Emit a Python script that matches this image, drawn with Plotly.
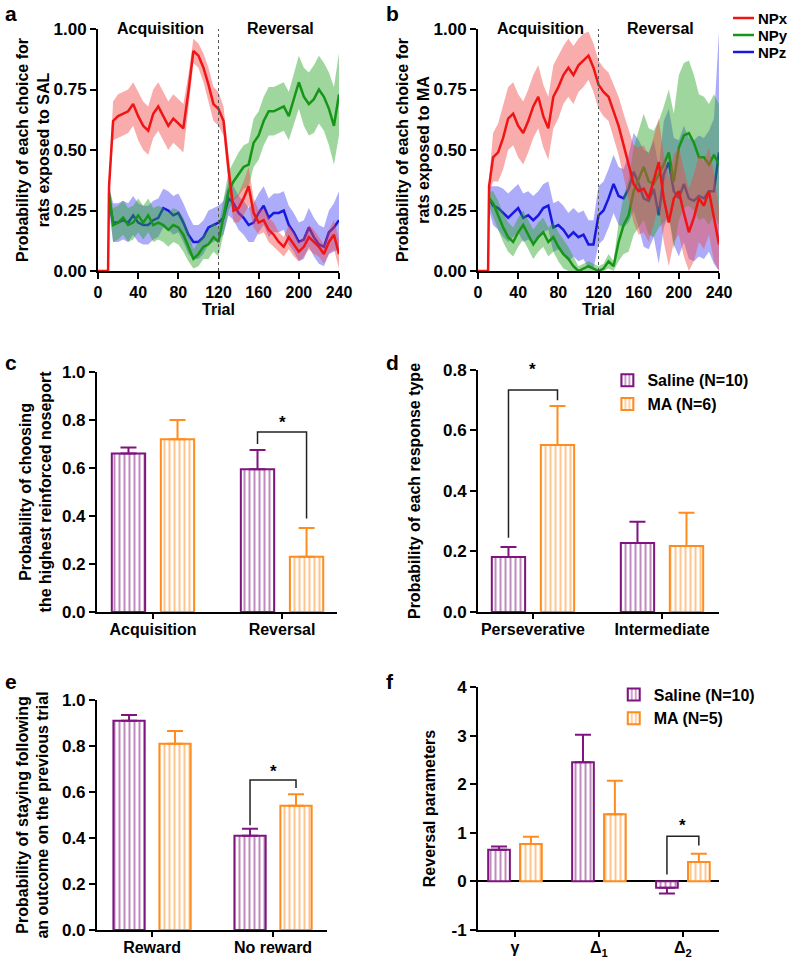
import plotly.graph_objects as go

FONT = 'Liberation Sans'

#%% panels a/b: choice probabilities over trials (mean + sem band)
trials = [11, 15, 20, 25, 30, 35, 40, 45, 50, 55,
          60, 65, 70, 75, 80, 85, 90, 95, 100, 105,
          110, 115, 120, 125, 130, 135, 140, 145, 150, 155,
          160, 165, 170, 175, 180, 185, 190, 195, 200, 205,
          210, 215, 220, 225, 230, 235, 240]
pre_trials = [0, 10]
pre_values = [0.0, 0.0]
trial_ticks = [0, 40, 80, 120, 160, 200, 240]
reversal_trial = 120

npx_sal = [0.35, 0.62, 0.64, 0.65, 0.66, 0.69, 0.64, 0.60, 0.58, 0.65,
           0.68, 0.64, 0.60, 0.63, 0.61, 0.59, 0.74, 0.91, 0.89, 0.84,
           0.77, 0.69, 0.67, 0.62, 0.42, 0.25, 0.26, 0.30, 0.35, 0.24,
           0.20, 0.21, 0.17, 0.15, 0.12, 0.10, 0.14, 0.11, 0.08, 0.10,
           0.14, 0.12, 0.10, 0.07, 0.12, 0.15, 0.07]
npy_sal = [0.32, 0.19, 0.20, 0.22, 0.19, 0.20, 0.23, 0.20, 0.23, 0.19,
           0.20, 0.19, 0.17, 0.19, 0.18, 0.15, 0.10, 0.05, 0.07, 0.10,
           0.11, 0.14, 0.12, 0.22, 0.33, 0.37, 0.40, 0.43, 0.44, 0.53,
           0.56, 0.62, 0.66, 0.66, 0.67, 0.68, 0.64, 0.71, 0.78, 0.72,
           0.69, 0.71, 0.75, 0.72, 0.67, 0.60, 0.73]
npz_sal = [0.30, 0.20, 0.20, 0.21, 0.20, 0.23, 0.20, 0.19, 0.19, 0.21,
           0.22, 0.26, 0.25, 0.23, 0.24, 0.20, 0.15, 0.12, 0.12, 0.14,
           0.18, 0.19, 0.20, 0.22, 0.30, 0.28, 0.24, 0.22, 0.19, 0.20,
           0.24, 0.27, 0.22, 0.24, 0.24, 0.25, 0.19, 0.16, 0.12, 0.13,
           0.18, 0.14, 0.11, 0.10, 0.16, 0.18, 0.21]
sem_x_sal = [0.03, 0.08, 0.09, 0.09, 0.09, 0.09, 0.10, 0.10, 0.10, 0.10,
             0.10, 0.10, 0.10, 0.10, 0.10, 0.10, 0.07, 0.05, 0.05, 0.06,
             0.07, 0.07, 0.07, 0.06, 0.06, 0.05, 0.06, 0.07, 0.08, 0.06,
             0.05, 0.05, 0.05, 0.05, 0.04, 0.04, 0.05, 0.05, 0.04, 0.04,
             0.05, 0.05, 0.04, 0.04, 0.05, 0.06, 0.06]
sem_y_sal = [0.03, 0.07, 0.07, 0.07, 0.07, 0.07, 0.07, 0.07, 0.07, 0.07,
             0.07, 0.07, 0.07, 0.07, 0.07, 0.07, 0.06, 0.04, 0.05, 0.05,
             0.06, 0.06, 0.06, 0.07, 0.08, 0.08, 0.09, 0.09, 0.09, 0.10,
             0.10, 0.10, 0.10, 0.10, 0.10, 0.10, 0.10, 0.11, 0.11, 0.12,
             0.13, 0.14, 0.14, 0.14, 0.15, 0.16, 0.17]
sem_z_sal = [0.05, 0.08, 0.08, 0.08, 0.08, 0.08, 0.08, 0.08, 0.08, 0.08,
             0.08, 0.08, 0.08, 0.08, 0.08, 0.08, 0.08, 0.07, 0.07, 0.07,
             0.07, 0.07, 0.07, 0.07, 0.07, 0.07, 0.07, 0.07, 0.07, 0.08,
             0.08, 0.08, 0.08, 0.08, 0.08, 0.08, 0.08, 0.08, 0.08, 0.08,
             0.08, 0.08, 0.08, 0.08, 0.09, 0.10, 0.12]

npx_ma = [0.35, 0.47, 0.49, 0.55, 0.63, 0.65, 0.60, 0.57, 0.62, 0.68,
          0.72, 0.64, 0.59, 0.72, 0.76, 0.81, 0.84, 0.81, 0.85, 0.87,
          0.89, 0.84, 0.77, 0.74, 0.72, 0.66, 0.60, 0.52, 0.44, 0.36,
          0.33, 0.34, 0.30, 0.38, 0.45, 0.30, 0.20, 0.30, 0.33, 0.24,
          0.16, 0.22, 0.30, 0.27, 0.33, 0.22, 0.11]
npy_ma = [0.30, 0.28, 0.23, 0.18, 0.14, 0.12, 0.16, 0.19, 0.15, 0.11,
          0.14, 0.16, 0.12, 0.14, 0.10, 0.07, 0.05, 0.02, 0.00, 0.01,
          0.02, 0.01, 0.00, 0.01, 0.04, 0.02, 0.12, 0.19, 0.23, 0.33,
          0.38, 0.43, 0.37, 0.36, 0.40, 0.44, 0.49, 0.37, 0.51, 0.56,
          0.57, 0.53, 0.47, 0.47, 0.44, 0.48, 0.44]
npz_ma = [0.30, 0.27, 0.26, 0.24, 0.22, 0.24, 0.26, 0.22, 0.23, 0.21,
          0.23, 0.26, 0.27, 0.18, 0.19, 0.17, 0.14, 0.16, 0.14, 0.15,
          0.11, 0.11, 0.23, 0.25, 0.30, 0.36, 0.31, 0.30, 0.34, 0.41,
          0.36, 0.30, 0.29, 0.34, 0.23, 0.40, 0.45, 0.33, 0.30, 0.36,
          0.30, 0.29, 0.31, 0.30, 0.33, 0.33, 0.49]
sem_x_ma = [0.03, 0.10, 0.12, 0.13, 0.13, 0.13, 0.13, 0.13, 0.13, 0.13,
            0.13, 0.13, 0.13, 0.13, 0.13, 0.12, 0.12, 0.12, 0.11, 0.11,
            0.10, 0.10, 0.10, 0.10, 0.10, 0.11, 0.12, 0.13, 0.14, 0.16,
            0.18, 0.18, 0.18, 0.18, 0.18, 0.18, 0.18, 0.18, 0.18, 0.18,
            0.18, 0.18, 0.18, 0.18, 0.18, 0.18, 0.15]
sem_y_ma = [0.03, 0.05, 0.06, 0.06, 0.06, 0.06, 0.06, 0.06, 0.06, 0.06,
            0.06, 0.06, 0.06, 0.06, 0.06, 0.06, 0.05, 0.04, 0.02, 0.02,
            0.02, 0.02, 0.02, 0.02, 0.03, 0.02, 0.08, 0.12, 0.15, 0.18,
            0.20, 0.22, 0.22, 0.22, 0.22, 0.24, 0.26, 0.28, 0.30, 0.30,
            0.30, 0.28, 0.26, 0.25, 0.25, 0.25, 0.25]
sem_z_ma = [0.05, 0.08, 0.09, 0.10, 0.10, 0.10, 0.10, 0.10, 0.10, 0.10,
            0.10, 0.10, 0.10, 0.10, 0.10, 0.10, 0.10, 0.10, 0.10, 0.10,
            0.10, 0.10, 0.12, 0.12, 0.12, 0.12, 0.12, 0.12, 0.14, 0.16,
            0.18, 0.20, 0.20, 0.20, 0.20, 0.22, 0.22, 0.22, 0.24, 0.24,
            0.25, 0.25, 0.25, 0.25, 0.25, 0.30, 0.50]

#%% panels c-f: group means with one-sided error bars
cats_c = ['Acquisition', 'Reversal']
sal_c = [0.66, 0.595]
sal_c_err = [0.025, 0.08]
ma_c = [0.72, 0.23]
ma_c_err = [0.08, 0.12]

cats_d = ['Perseverative', 'Intermediate']
sal_d = [0.182, 0.228]
sal_d_err = [0.033, 0.07]
ma_d = [0.552, 0.218]
ma_d_err = [0.129, 0.11]

cats_e = ['Reward', 'No reward']
sal_e = [0.91, 0.41]
sal_e_err = [0.025, 0.03]
ma_e = [0.81, 0.54]
ma_e_err = [0.055, 0.05]

cats_f = ['\u03b3', '\u0394<sub>1</sub>', '\u0394<sub>2</sub>']
sal_f = [0.65, 2.45, -0.13]
sal_f_err = [0.07, 0.57, 0.12]
ma_f = [0.77, 1.38, 0.40]
ma_f_err = [0.15, 0.69, 0.17]
f_ticks = [-1, 0, 1, 2, 3, 4]

# significance brackets: (group, left leg bottom, top, right leg bottom, star)
sig_c = (1, 0.70, 0.75, 0.39, 0.79)
sig_d = (0, 0.245, 0.734, 0.70, 0.80)
sig_e = (1, 0.455, 0.652, 0.617, 0.69)
sig_f = (2, 0.14, 0.93, 0.74, 1.15)

np_names = ['NPx', 'NPy', 'NPz']

RED, GREEN, BLUE = '#f01414', '#169616', '#1818e0'
RED_BAND = 'rgba(242,70,70,0.45)'
GREEN_BAND = 'rgba(40,165,40,0.45)'
BLUE_BAND = 'rgba(70,70,245,0.45)'
PURPLE, ORANGE = '#7e147e', '#ff8c1e'
BARGAP, GROUPGAP = 0.24, 0.32
W, H = 795, 961

fig = go.Figure()


def add_band(xa, ya, mean, sem, band, color, pre=False):
    upper = [m + s for m, s in zip(mean, sem)]
    lower = [max(m - s, 0) for m, s in zip(mean, sem)]
    fig.add_trace(go.Scatter(x=trials + trials[::-1], y=upper + lower[::-1], fill='toself',
                             fillcolor=band, line=dict(width=0), hoverinfo='skip',
                             showlegend=False, xaxis=xa, yaxis=ya))
    xs = pre_trials + trials if pre else trials
    ys = pre_values + mean if pre else mean
    fig.add_trace(go.Scatter(x=xs, y=ys, mode='lines', line=dict(color=color, width=2.5),
                             showlegend=False, xaxis=xa, yaxis=ya))


for xa, ya, vals, sems in [('x', 'y', (npx_sal, npy_sal, npz_sal), (sem_x_sal, sem_y_sal, sem_z_sal)),
                           ('x2', 'y2', (npx_ma, npy_ma, npz_ma), (sem_x_ma, sem_y_ma, sem_z_ma))]:
    add_band(xa, ya, vals[2], sems[2], BLUE_BAND, BLUE)
    add_band(xa, ya, vals[1], sems[1], GREEN_BAND, GREEN)
    add_band(xa, ya, vals[0], sems[0], RED_BAND, RED, pre=True)


def add_bars(xa, ya, cats, sal, sal_err, ma, ma_err, legend=None, ma_label='MA (N=6)'):
    pos = list(range(len(cats)))
    for vals, errs, col, nm in [(sal, sal_err, PURPLE, 'Saline (N=10)'), (ma, ma_err, ORANGE, ma_label)]:
        up = [e if v >= 0 else 0 for v, e in zip(vals, errs)]
        down = [0 if v >= 0 else e for v, e in zip(vals, errs)]
        fig.add_trace(go.Bar(
            x=pos, y=vals, name=nm, xaxis=xa, yaxis=ya,
            marker=dict(color='white', line=dict(color=col, width=2),
                        pattern=dict(shape='|', fgcolor=col, bgcolor='white', size=5, solidity=0.4)),
            error_y=dict(type='data', symmetric=False, array=up, arrayminus=down,
                         color=col, thickness=2, width=8),
            showlegend=legend is not None, legend=legend or 'legend2'))


add_bars('x3', 'y3', cats_c, sal_c, sal_c_err, ma_c, ma_c_err)
add_bars('x4', 'y4', cats_d, sal_d, sal_d_err, ma_d, ma_d_err, legend='legend2')
add_bars('x5', 'y5', cats_e, sal_e, sal_e_err, ma_e, ma_e_err)
add_bars('x6', 'y6', cats_f, sal_f, sal_f_err, ma_f, ma_f_err, legend='legend3', ma_label='MA (N=5)')

tick_font = dict(family=FONT, size=17, color='black', weight='bold')
title_font = dict(family=FONT, size=16, color='black', weight='bold')
axis_common = dict(showline=True, linewidth=2, linecolor='black', ticks='outside', ticklen=6,
                   tickwidth=2, tickcolor='black', showgrid=False, zeroline=False,
                   tickfont=tick_font, automargin=False)


def x_axis(dom, anchor, rng, tickvals, ticktext=None, title=None):
    d = dict(axis_common, domain=dom, anchor=anchor, range=rng, tickvals=tickvals, tickfont=title_font)
    if ticktext:
        d['ticktext'] = ticktext
        d['ticklen'] = 5
        d['ticklabelstandoff'] = -3
    if title:
        d['title'] = dict(text=title, font=title_font, standoff=4)
    return d


def y_axis(dom, anchor, rng, dtick, fmt, title, standoff):
    return dict(axis_common, domain=dom, anchor=anchor, range=rng, dtick=dtick, tickformat=fmt,
                title=dict(text=title, font=title_font, standoff=standoff))


off = (1 - BARGAP) / 4
shapes = []
annotations = []
for xr, yr in [('x', 'y'), ('x2', 'y2')]:
    shapes.append(dict(type='line', xref=xr, yref=yr, x0=reversal_trial, x1=reversal_trial, y0=0, y1=1,
                       line=dict(color='#555555', width=1, dash='dot')))
    annotations.append(dict(xref=xr, yref='paper', x=62, y=1 - 18 / H, text='Acquisition',
                            showarrow=False, font=title_font))
    annotations.append(dict(xref=xr, yref='paper', x=182, y=1 - 18 / H, text='Reversal',
                            showarrow=False, font=title_font))

# NPx / NPy / NPz key, top right
for nm, col, py in zip(np_names, [RED, GREEN, BLUE], [18, 35, 52]):
    shapes.append(dict(type='line', xref='paper', yref='paper', x0=733 / W, x1=754 / W,
                       y0=1 - py / H, y1=1 - py / H, line=dict(color=col, width=2.5)))
    annotations.append(dict(xref='paper', yref='paper', x=756 / W, y=1 - py / H, text=nm,
                            showarrow=False, xanchor='left', yanchor='middle',
                            font=dict(family=FONT, size=15, color='black', weight='bold')))

for xr, yr, sig in [('x3', 'y3', sig_c), ('x4', 'y4', sig_d), ('x5', 'y5', sig_e), ('x6', 'y6', sig_f)]:
    g, lb, top, rb, star = sig
    shapes.append(dict(type='path', xref=xr, yref=yr,
                       path=f'M {g - off},{lb} L {g - off},{top} L {g + off},{top} L {g + off},{rb}',
                       line=dict(color='#222222', width=1.5)))
    annotations.append(dict(xref=xr, yref=yr, x=g, y=star, text='*', showarrow=False,
                            font=dict(family=FONT, size=17, color='black', weight='bold')))

for letter, px, py in [('a', 11, 13), ('b', 392, 13), ('c', 11, 362), ('d', 392, 362),
                       ('e', 11, 681), ('f', 390, 681)]:
    annotations.append(dict(xref='paper', yref='paper', x=px / W, y=1 - py / H, text=letter,
                            showarrow=False, xanchor='center', yanchor='middle',
                            font=dict(family=FONT, size=21, color='black', weight='bold')))

leg_font = dict(family=FONT, size=16, color='black', weight='bold')
fig.update_layout(
    width=W, height=H, margin=dict(l=0, r=0, t=0, b=0),
    paper_bgcolor='white', plot_bgcolor='white',
    font=dict(family=FONT, size=16, color='black', weight='bold'),
    barmode='group', bargap=BARGAP, bargroupgap=GROUPGAP,
    xaxis=x_axis([0.1233, 0.4264], 'y', [0, 240], trial_ticks, title='Trial'),
    yaxis=y_axis([0.718, 0.9698], 'x', [0, 1], 0.25, '.2f',
                 'Probability of each choice for<br>rats exposed to SAL', 0),
    xaxis2=x_axis([0.6013, 0.9044], 'y2', [0, 240], trial_ticks, title='Trial'),
    yaxis2=y_axis([0.718, 0.9698], 'x2', [0, 1], 0.25, '.2f',
                  'Probability of each choice for<br>rats exposed to MA', 0),
    xaxis3=x_axis([0.122, 0.4239], 'y3', [-0.434, 1.426], [0, 1], cats_c),
    yaxis3=y_axis([0.3632, 0.6129], 'x3', [0, 1], 0.2, '.1f',
                  'Probability of choosing<br>the highest reinforced noseport', 6),
    xaxis4=x_axis([0.6013, 0.9044], 'y4', [-0.426, 1.442], [0, 1], cats_d),
    yaxis4=y_axis([0.3632, 0.615], 'x4', [0, 0.8], 0.2, '.1f',
                  'Probability of each response type', 18),
    xaxis5=x_axis([0.122, 0.4113], 'y5', [-0.455, 1.446], [0, 1], cats_e),
    yaxis5=y_axis([0.0323, 0.2716], 'x5', [0, 1], 0.2, '.1f',
                  'Probability of staying following<br>an outcome on the previous trial', 9),
    xaxis6=x_axis([0.6013, 0.9044], 'y6', [-0.44, 2.43], [0, 1, 2], cats_f),
    yaxis6=dict(y_axis([0.0323, 0.2851], 'x6', [-1, 4], 1, 'd', 'Reversal parameters', 12),
                tickvals=f_ticks, ticktext=[str(v) for v in f_ticks],
                zeroline=True, zerolinecolor='black', zerolinewidth=2),
    legend2=dict(x=0.764, y=0.622, xanchor='left', yanchor='top', bgcolor='rgba(0,0,0,0)',
                 font=leg_font, itemwidth=30),
    legend3=dict(x=0.772, y=0.295, xanchor='left', yanchor='top', bgcolor='rgba(0,0,0,0)',
                 font=leg_font, itemwidth=30),
    shapes=shapes, annotations=annotations,
)

# drop the default page margin so the figure sits at the window's top-left corner
fig.write_html('out.html', config={'displayModeBar': False},
               post_script="document.body.style.margin='0';")
